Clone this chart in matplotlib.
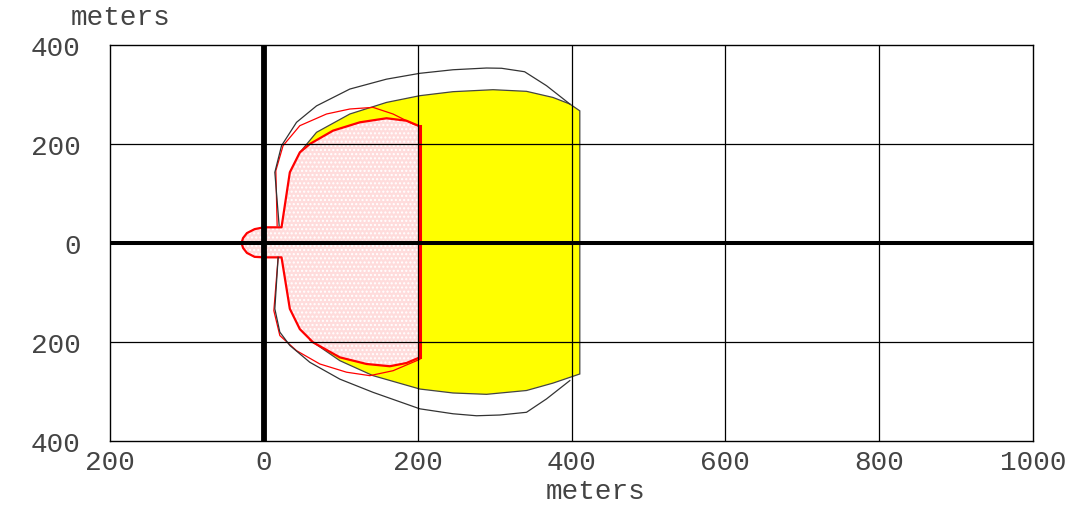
import numpy as np
import matplotlib
matplotlib.use("Agg")
import matplotlib.pyplot as plt
from matplotlib.ticker import FuncFormatter

# outer black contour (upper and lower branches, left to right)
black_top_x = [19.9, 14.3, 23.0, 42.5, 68.5, 111.8, 159.5, 202.8, 246.0, 289.5, 309.0, 339.0, 367.5, 397.8]
black_top_y = [35.0, 142.8, 196.6, 243.8, 277.0, 311.0, 331.0, 342.8, 350.0, 353.5, 353.0, 346.0, 317.8, 280.8]
black_bot_x = [18.6, 14.3, 20.8, 33.8, 59.8, 98.8, 142.0, 202.8, 246.0, 276.5, 306.8, 341.5, 367.5, 397.8]
black_bot_y = [-29.0, -133.0, -180.0, -207.0, -241.0, -275.0, -301.7, -335.0, -345.0, -349.0, -347.5, -342.0, -315.0, -278.0]

# yellow zone edges
yellow_top_x = [46.8, 68.5, 111.8, 159.5, 202.8, 246.0, 298.0, 341.5, 376.0, 397.8, 410.8]
yellow_top_y = [183.0, 223.6, 260.6, 284.0, 297.6, 305.7, 309.7, 306.4, 294.0, 280.8, 267.0]
yellow_bot_x = [59.8, 98.8, 142.0, 202.8, 246.0, 289.5, 341.5, 376.0, 410.8]
yellow_bot_y = [-196.0, -237.7, -268.0, -295.0, -303.0, -305.7, -298.0, -283.0, -264.6]

# pink zone (inner red boundary)
pink_top_x = [23.0, 33.8, 46.8, 59.8, 90.0, 124.8, 159.5, 185.5, 202.8]
pink_top_y = [31.7, 142.8, 183.0, 200.0, 227.0, 243.8, 252.0, 247.0, 235.7]
pink_bot_x = [23.0, 33.8, 46.8, 64.0, 98.8, 133.5, 163.8, 185.5, 202.8]
pink_bot_y = [-29.0, -133.0, -174.0, -200.7, -231.0, -244.4, -249.0, -242.4, -231.0]

# thin outer red contour
red_top_x = [17.3, 15.6, 25.0, 46.8, 81.5, 111.8, 142.0, 168.0, 194.0, 202.8]
red_top_y = [35.0, 146.0, 196.6, 237.0, 260.6, 270.7, 274.0, 260.6, 240.4, 235.7]
red_bot_x = [18.6, 13.0, 20.8, 42.5, 72.8, 107.5, 137.8, 168.0, 202.8]
red_bot_y = [-29.0, -136.7, -187.0, -217.5, -244.4, -261.0, -268.0, -258.0, -235.0]

# small bump behind the origin
bump_x = [0.0, -12.0, -22.0, -27.0, -29.0, -27.0, -22.0, -12.0, 0.0]
bump_y = [31.7, 28.0, 20.0, 10.0, 0.0, -10.0, -20.0, -28.0, -29.0]

xticks = [-200, 0, 200, 400, 600, 800, 1000]
yticks = [-400, -200, 0, 200, 400]

mono = "Liberation Mono"
txt = "#444444"
fig = plt.figure(figsize=(10.85, 5.06), dpi=100)
ax = fig.add_axes([110 / 1085, 64 / 506, 923 / 1085, 396 / 506])
ax.set_xlim(-200, 1000)
ax.set_ylim(-400, 400)

# yellow zone
yx = yellow_top_x + yellow_bot_x[::-1] + [40.0, 40.0]
yy = yellow_top_y + yellow_bot_y[::-1] + [-100.0, 100.0]
ax.fill(yx, yy, facecolor="#ffff00", edgecolor="#444444", linewidth=0.9, zorder=2)

# pink zone
px = pink_top_x[::-1] + [0.0] + bump_x + [0.0] + pink_bot_x
py = pink_top_y[::-1] + [31.7] + bump_y + [-29.0] + pink_bot_y
ax.fill(px, py, facecolor="#ffdcdc", edgecolor="white", linewidth=0, hatch="....", zorder=3)
ax.plot(px, py, color="red", linewidth=1.6, zorder=4)
ax.plot([pink_top_x[-1], pink_bot_x[-1]], [pink_top_y[-1], pink_bot_y[-1]], color="red", linewidth=2.2, zorder=4)

ax.plot(red_top_x, red_top_y, color="red", linewidth=0.9, zorder=4)
ax.plot(red_bot_x, red_bot_y, color="red", linewidth=0.9, zorder=4)
ax.plot(black_top_x, black_top_y, color="#333333", linewidth=0.9, zorder=4)
ax.plot(black_bot_x, black_bot_y, color="#333333", linewidth=0.9, zorder=4)

for v in xticks[1:-1]:
    ax.axvline(v, color="black", linewidth=0.9, zorder=5)
for v in yticks[1:-1]:
    ax.axhline(v, color="black", linewidth=0.9, zorder=5)
ax.axvline(0, color="black", linewidth=4.2, zorder=6)
ax.axhline(0, color="black", linewidth=2.9, zorder=6)

ax.set_xticks(xticks)
ax.set_yticks(yticks)
fmt = FuncFormatter(lambda v, p: str(abs(int(v))))
ax.xaxis.set_major_formatter(fmt)
ax.yaxis.set_major_formatter(fmt)
ax.tick_params(length=0, pad=6, labelsize=20, colors=txt)
ax.tick_params(axis="y", pad=21)
for lab in ax.get_xticklabels() + ax.get_yticklabels():
    lab.set_family(mono)
for s in ax.spines.values():
    s.set_linewidth(1.0)

fig.text(596 / 1085, 1 - 492 / 506, "meters", family=mono, fontsize=20, color=txt, ha="center", va="center")
fig.text(121 / 1085, 1 - 18 / 506, "meters", family=mono, fontsize=20, color=txt, ha="center", va="center")

fig.savefig("out.png", dpi=100)
